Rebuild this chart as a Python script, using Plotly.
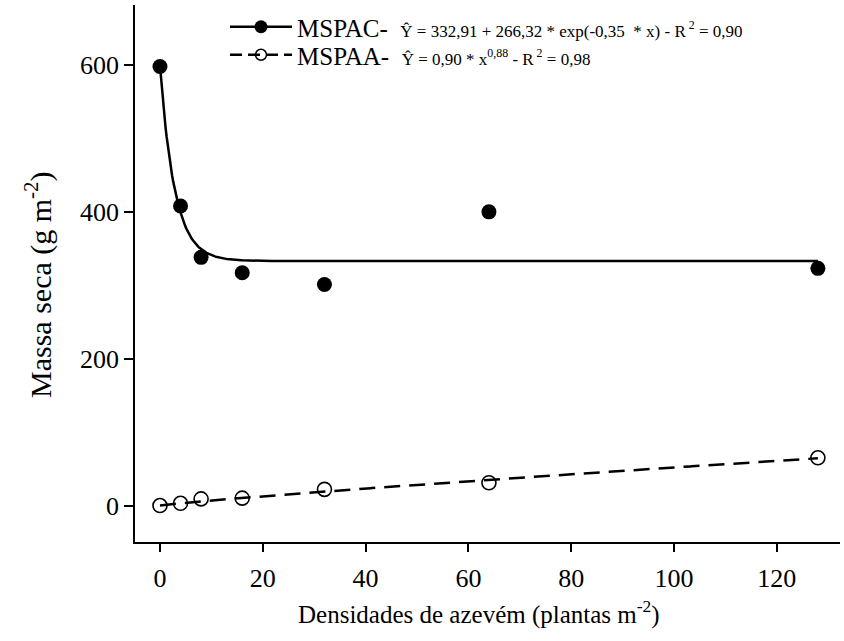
import numpy as np
import plotly.graph_objects as go

# Data
densidade = [0, 4, 8, 16, 32, 64, 128]
mspac = [598, 408, 338, 317, 301, 400, 323]
mspaa = [0, 3, 9, 10, 22, 31, 65]

# Fitted model coefficients (as printed in the legend)
pac_a, pac_b, pac_c = 332.91, 266.32, -0.35
paa_a, paa_b = 0.90, 0.88

x_ticks = [0, 20, 40, 60, 80, 100, 120]
y_ticks = [0, 200, 400, 600]

x_title = "Densidades de azevém (plantas m<sup>-2</sup>)"
y_title = "Massa seca (g m<sup>-2</sup>)"

xfit = np.linspace(0, 128, 600)
pac_fit = pac_a + pac_b * np.exp(pac_c * xfit)
paa_fit = paa_a * xfit ** paa_b

FONT = "Liberation Serif, Times New Roman, serif"

fig = go.Figure()

# fitted curves
fig.add_trace(go.Scatter(x=xfit, y=pac_fit, mode="lines",
                         line=dict(color="black", width=2.5),
                         showlegend=False, hoverinfo="skip"))
fig.add_trace(go.Scatter(x=xfit, y=paa_fit, mode="lines",
                         line=dict(color="black", width=2.5, dash="16px,9px"),
                         showlegend=False, hoverinfo="skip"))
# observed points
fig.add_trace(go.Scatter(x=densidade, y=mspac, mode="markers",
                         marker=dict(symbol="circle", size=15, color="black"),
                         showlegend=False))
fig.add_trace(go.Scatter(x=densidade, y=mspaa, mode="markers",
                         marker=dict(symbol="circle-open", size=14, color="black",
                                     line=dict(width=1.6, color="black")),
                         showlegend=False))

eq_style = "font-size:17px"
name_pac = ("MSPAC-\u00a0\u00a0<span style='%s'>Ŷ = 332,91 + 266,32 * exp(-0,35 \u00a0* x) - R<sup> 2</sup> = 0,90</span>" % eq_style)
name_paa = ("MSPAA-\u00a0\u00a0<span style='%s'>Ŷ = 0,90 * x<sup>0,88</sup> - R<sup> 2</sup> = 0,98</span>" % eq_style)

# legend entries
fig.add_trace(go.Scatter(x=[None], y=[None], mode="lines+markers", name=name_pac,
                         line=dict(color="black", width=2.5),
                         marker=dict(symbol="circle", size=13, color="black"),
                         legend="legend"))
fig.add_trace(go.Scatter(x=[None], y=[None], mode="lines+markers", name=name_paa,
                         line=dict(color="black", width=2.5, dash="12px,6px"),
                         marker=dict(symbol="circle-open", size=11, color="black",
                                     line=dict(width=1.5, color="black")),
                         legend="legend2"))

W, H = 844, 641
ml, mr, mt, mb = 135, 4, 5, 99
pw, ph = W - ml - mr, H - mt - mb

def px_x(p):
    return (p - ml) / pw

def px_y(p):
    return 1 - (p - mt) / ph

legend_common = dict(font=dict(family=FONT, size=25, color="black"),
                     bgcolor="rgba(0,0,0,0)", borderwidth=0,
                     itemwidth=62, xanchor="left", yanchor="middle",
                     itemclick=False, itemdoubleclick=False)

fig.update_layout(
    width=W, height=H,
    margin=dict(l=ml, r=mr, t=mt, b=mb, autoexpand=False),
    paper_bgcolor="white", plot_bgcolor="white",
    font=dict(family=FONT, size=25, color="black"),
    xaxis=dict(range=[-4.86, 132.3], tickvals=x_ticks, ticktext=[str(v) for v in x_ticks],
               showline=True, linecolor="black", linewidth=1.5,
               ticks="outside", ticklen=8, tickwidth=1.5, tickcolor="black",
               ticklabelstandoff=4,
               showgrid=False, zeroline=False,
               tickfont=dict(family=FONT, size=26)),
    yaxis=dict(range=[-49.7, 681.7], tickvals=y_ticks, ticktext=[str(v) for v in y_ticks],
               showline=True, linecolor="black", linewidth=1.5,
               ticks="outside", ticklen=9, tickwidth=1.5, tickcolor="black",
               showgrid=False, zeroline=False,
               tickfont=dict(family=FONT, size=26)),
    legend=dict(x=px_x(225), y=px_y(27), **legend_common),
    legend2=dict(x=px_x(225), y=px_y(55), **legend_common),
    annotations=[
        dict(text=x_title, xref="paper", yref="paper", x=px_x(479), y=px_y(612),
             xanchor="center", yanchor="middle", showarrow=False,
             font=dict(family=FONT, size=25, color="black")),
        dict(text=y_title, xref="paper", yref="paper", x=px_x(38), y=px_y(285),
             xanchor="center", yanchor="middle", showarrow=False, textangle=-90,
             font=dict(family=FONT, size=30, color="black")),
    ],
)

fig.write_html("out.html")
